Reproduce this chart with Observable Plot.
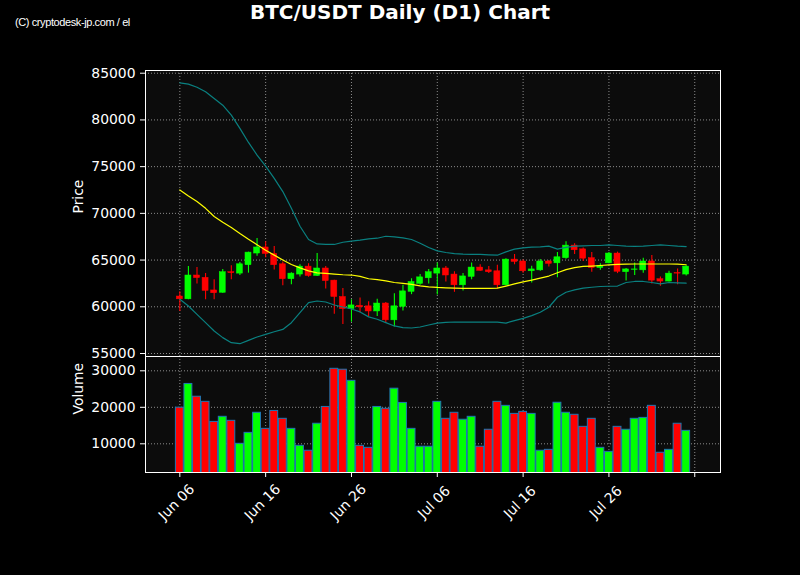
<!DOCTYPE html>
<html>
<head>
<meta charset="utf-8">
<script src="https://cdn.jsdelivr.net/npm/d3@7"></script>
<script src="https://cdn.jsdelivr.net/npm/@observablehq/plot@0.6"></script>
<style>
  html, body { margin: 0; padding: 0; background: #000; }
  #wrap { position: relative; width: 800px; height: 575px; background: #000; overflow: hidden; }
  #title { position: absolute; left: 0; width: 800px; top: 0px; text-align: center; color: #fff;
           font: bold 20px "DejaVu Sans", sans-serif; line-height: normal; }
  #copy { position: absolute; left: 15px; top: 15px; color: #fff;
          font: 11px "Liberation Sans Narrow", "Liberation Sans", sans-serif; line-height: 14px; letter-spacing: -0.4px; }
  .panel { position: absolute; left: 0; }
</style>
</head>
<body>
<div id="wrap">
  <div id="title">BTC/USDT Daily (D1) Chart</div>
  <div id="copy">(C) cryptodesk-jp.com / el</div>
  <div id="price" class="panel" style="top:0px"></div>
  <div id="volume" class="panel" style="top:356px"></div>
</div>
<script>
// ---- data ----
const dates = [
  "2024-06-06","2024-06-07","2024-06-08","2024-06-09","2024-06-10","2024-06-11","2024-06-12","2024-06-13","2024-06-14","2024-06-15",
  "2024-06-16","2024-06-17","2024-06-18","2024-06-19","2024-06-20","2024-06-21","2024-06-22","2024-06-23","2024-06-24","2024-06-25",
  "2024-06-26","2024-06-27","2024-06-28","2024-06-29","2024-06-30","2024-07-01","2024-07-02","2024-07-03","2024-07-04","2024-07-05",
  "2024-07-06","2024-07-07","2024-07-08","2024-07-09","2024-07-10","2024-07-11","2024-07-12","2024-07-13","2024-07-14","2024-07-15",
  "2024-07-16","2024-07-17","2024-07-18","2024-07-19","2024-07-20","2024-07-21","2024-07-22","2024-07-23","2024-07-24","2024-07-25",
  "2024-07-26","2024-07-27","2024-07-28","2024-07-29","2024-07-30","2024-07-31","2024-08-01","2024-08-02","2024-08-03","2024-08-04"
];
const opens = [
  61100,60800,63350,63100,61750,61500,63700,63550,64450,65700,
  66350,65650,64550,62950,63450,64300,63300,64100,62800,61050,
  59750,60100,60050,59500,60350,58550,60000,61600,62450,63050,
  63550,64100,63450,62300,63200,64200,63900,63800,62300,65050,
  64850,63800,63900,64850,64650,65200,66550,66150,65200,64150,
  64650,65700,63700,63950,63900,64850,62950,62700,63600,63450
];
const highs = [
  61600,64300,64200,63550,62900,64000,64400,64750,65850,67300,
  66950,66450,64800,63650,64500,64600,65700,64300,62850,61950,
  60750,60950,60550,60800,60450,61400,62300,63000,63450,64000,
  64700,64300,63750,63550,64700,64500,64300,64450,65150,65600,
  65000,64350,65050,64950,65800,66950,66750,66300,65800,64600,
  65800,65850,64100,64700,65200,65500,63200,63800,64050,64400
];
const lows = [
  59500,60750,62450,60750,60750,61450,62900,63350,63600,65400,
  65250,63950,62250,62350,63200,63150,63250,61900,59200,58100,
  58350,59350,58900,58950,58200,57850,59550,61300,62300,62450,
  61250,62650,61550,61700,62900,63800,63550,61950,62250,64500,
  63600,62550,63800,64250,63100,65100,65600,64850,63700,63900,
  64600,63550,62750,63350,63600,62450,62200,62650,62350,63300
];
const closes = [
  60800,63350,63070,61700,61450,63700,63600,64550,65800,66350,
  65650,64450,62950,63550,64300,63300,64100,62750,61050,59750,
  60150,59950,59500,60350,58550,60050,61650,62650,63150,63700,
  64100,63350,62300,63250,64200,63850,63700,62300,65050,64800,
  63800,64000,64850,64600,65300,66550,66050,65150,64150,64350,
  65700,63750,64000,64000,64850,62800,62700,63550,63550,64300
];
const volumes = [
  19900,26400,22900,21500,16000,17400,16300,10000,13000,18500,
  14100,19000,16850,14100,9450,8100,15500,20100,30550,30300,
  27250,9450,8900,20100,19600,25100,21200,14100,9200,9200,
  21500,16850,18500,16600,17400,9200,13850,21500,20400,18200,
  18750,18200,8100,8350,21250,18500,17950,14650,16850,8900,
  7800,14650,13850,16850,17100,20400,7550,8350,15500,13550
];
const bbUpper = [
  83970,83830,83500,83010,82300,81580,80510,79090,77590,76240,
  75060,73750,72330,70540,68620,67200,66730,66670,66670,66910,
  67020,67130,67270,67340,67550,67480,67370,67200,66800,66350,
  65990,65810,65700,65630,65600,65600,65560,65520,65880,66170,
  66310,66380,66420,66490,66170,66350,66490,66520,66560,66560,
  66630,66560,66490,66470,66490,66560,66630,66560,66490,66450
];
const bbMiddle = [
  72500,71860,71260,70540,69660,69050,68480,67840,67230,66650,
  66060,65530,65000,64530,64170,63850,63630,63570,63490,63430,
  63400,63260,63000,62900,62780,62600,62500,62390,62240,62140,
  62070,62030,62000,61970,61970,61970,61970,62000,62220,62450,
  62670,62850,63060,63290,63650,63980,64190,64320,64360,64420,
  64480,64540,64560,64580,64580,64580,64580,64580,64560,64500
];
const bbLower = [
  60800,60080,59190,58300,57410,56700,56160,56050,56410,56770,
  57050,57330,57580,58300,59370,60440,60620,60510,60190,59980,
  59770,59450,58920,58670,58300,57950,57770,57730,57840,58050,
  58260,58330,58370,58350,58350,58350,58350,58350,58260,58520,
  58760,59050,59410,59950,61020,61560,61810,61990,62090,62170,
  62200,62220,62600,62710,62710,62600,62460,62600,62560,62530
];
const priceTicks = [55000, 60000, 65000, 70000, 75000, 80000, 85000];
const volumeTicks = [10000, 20000, 30000];
const xTickDates = ["2024-06-06","2024-06-16","2024-06-26","2024-07-06","2024-07-16","2024-07-26","2024-08-05"];
const xTickLabels = ["Jun 06","Jun 16","Jun 26","Jul 06","Jul 16","Jul 26",""];
const xDomain = ["2024-06-02","2024-08-08"];

// ---- build ----
const DAY = 864e5;
const rows = dates.map((d, i) => ({
  date: new Date(d + "T00:00:00Z"),
  open: opens[i], high: highs[i], low: lows[i], close: closes[i],
  volume: volumes[i], upper: bbUpper[i], middle: bbMiddle[i], lower: bbLower[i],
  up: closes[i] >= opens[i]
}));
const GREEN = "#00ff00", RED = "#ff0000";
const col = d => d.up ? GREEN : RED;
const xd = xDomain.map(s => new Date(s + "T00:00:00Z"));
const tickD = xTickDates.map(s => new Date(s + "T00:00:00Z"));
const tickRows = tickD.map((d, i) => ({date: d, label: xTickLabels[i]})).filter(d => d.label !== "");
const GRID = "#8c8c8c";
const FONT = "DejaVu Sans, sans-serif";
const PANEL = "#0c0c0c";

const price = Plot.plot({
  width: 800, height: 356,
  marginTop: 70, marginBottom: 0, marginLeft: 145, marginRight: 80,
  style: {background: "transparent", color: "white", fontFamily: FONT, fontSize: "13.9px", overflow: "visible"},
  x: {type: "utc", domain: xd, axis: null},
  y: {domain: [54680, 85290]},
  marks: [
    Plot.frame({fill: PANEL}),
    Plot.gridX(tickD, {stroke: GRID, strokeOpacity: 1, strokeDasharray: "1,2"}),
    Plot.gridY(priceTicks, {stroke: GRID, strokeOpacity: 1, strokeDasharray: "1,2"}),
    Plot.ruleX(rows, {x: "date", y1: "low", y2: "high", stroke: col, strokeWidth: 1.1}),
    Plot.rect(rows, {
      x1: d => new Date(+d.date - 0.35 * DAY), x2: d => new Date(+d.date + 0.35 * DAY),
      y1: "open", y2: "close", fill: col, stroke: col, strokeWidth: 0.5
    }),
    Plot.line(rows, {x: "date", y: "upper", stroke: "#0a8080", strokeWidth: 1.2}),
    Plot.line(rows, {x: "date", y: "lower", stroke: "#0a8080", strokeWidth: 1.2}),
    Plot.line(rows, {x: "date", y: "middle", stroke: "#ffff00", strokeWidth: 1.2}),
    Plot.axisY(priceTicks, {tickSize: 5, tickPadding: 5, stroke: "white", fill: "white", fontSize: 13.9, tickFormat: d3.format("d"), label: null}),
    Plot.text(["Price"], {frameAnchor: "left", dx: -67, rotate: -90, fill: "white", fontSize: 13.9, text: d => d}),
    Plot.frame({stroke: "white", strokeWidth: 1})
  ]
});
document.getElementById("price").appendChild(price);

const volume = Plot.plot({
  width: 800, height: 219,
  marginTop: 0, marginBottom: 103, marginLeft: 145, marginRight: 80,
  style: {background: "transparent", color: "white", fontFamily: FONT, fontSize: "13.9px"},
  x: {type: "utc", domain: xd},
  y: {domain: [2140, 33920]},
  marks: [
    Plot.frame({fill: PANEL}),
    Plot.gridX(tickD, {stroke: GRID, strokeOpacity: 1, strokeDasharray: "1,2"}),
    Plot.gridY(volumeTicks, {stroke: GRID, strokeOpacity: 1, strokeDasharray: "1,2"}),
    Plot.rect(rows, {
      x1: d => new Date(+d.date - 0.46 * DAY), x2: d => new Date(+d.date + 0.46 * DAY),
      y1: 0, y2: "volume", fill: col, stroke: "#1f77b4", strokeWidth: 1, clip: true
    }),
    Plot.axisY(volumeTicks, {tickSize: 5, tickPadding: 5, stroke: "white", fill: "white", fontSize: 13.9, tickFormat: d3.format("d"), label: null}),
    Plot.axisX(tickD, {tickSize: 5, stroke: "white", fill: "none", label: null}),
    Plot.text(tickRows, {x: "date", text: "label", frameAnchor: "bottom", dy: 33, rotate: -45, textAnchor: "middle", fill: "white", fontSize: 13.9}),
    Plot.text(["Volume"], {frameAnchor: "left", dx: -67, rotate: -90, fill: "white", fontSize: 13.9, text: d => d}),
    Plot.frame({stroke: "white", strokeWidth: 1})
  ]
});
document.getElementById("volume").appendChild(volume);
</script>
</body>
</html>
